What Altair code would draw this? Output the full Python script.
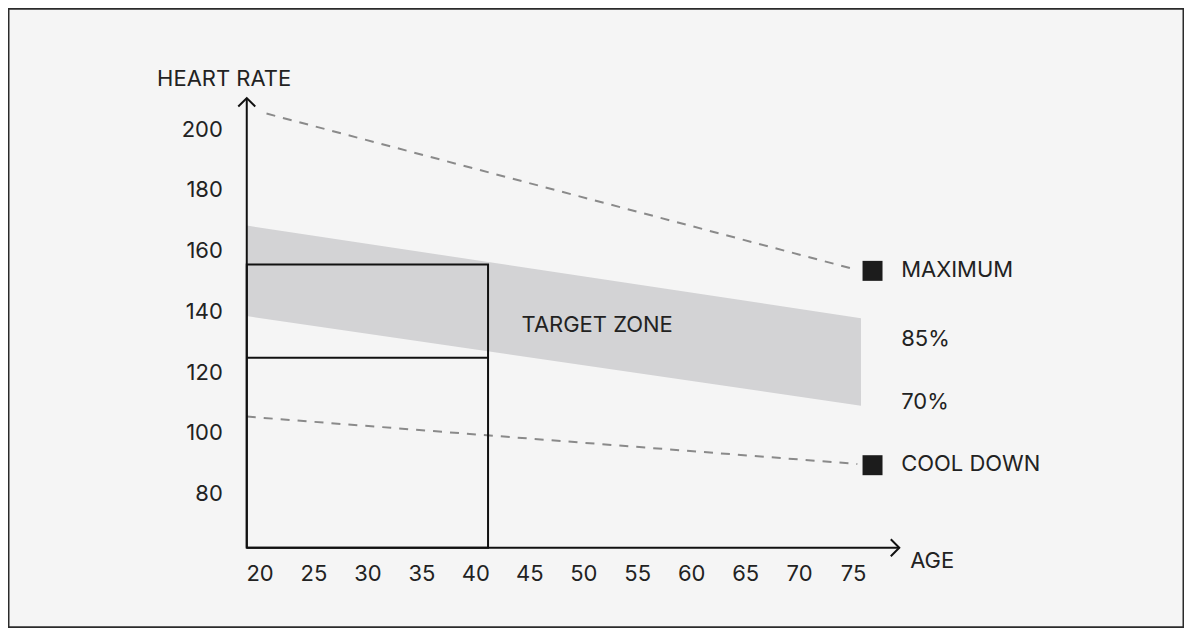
import altair as alt
import pandas as pd

# ---- data ----
band_age = [18.77, 75.69]
band_top = [168.4, 137.9]      # 85% line
band_bottom = [138.6, 109.1]   # 70% line

max_age = [20.6, 75.35]
max_hr = [205.3, 153.8]
cool_age = [18.77, 75.35]
cool_hr = [105.5, 89.9]

marker_age = [76.76, 76.76]
marker_hr = [153.5, 89.5]

box_age = [18.77, 41.13]
box_hr = [62.3, 155.6]
box_mid_hr = [124.9]

x_ticks = [20, 25, 30, 35, 40, 45, 50, 55, 60, 65, 70, 75]
y_ticks = [80, 100, 120, 140, 160, 180, 200]

axis_origin = [18.77, 62.3]
axis_end_age = [79.24]
axis_end_hr = [210.4]

right_labels = ["MAXIMUM", "85%", "70%", "COOL DOWN"]
right_label_hr = [153.8, 131.1, 110.2, 89.9]
right_label_age = [79.42]

FONT = "Inter"
FS = 22
TXT = "#222222"

xs = alt.Scale(domain=[20, 75], range=[252.25, 846.25], nice=False, zero=False)
ys = alt.Scale(domain=[80, 200], range=[486.2, 121.5], nice=False, zero=False)

def X(field="a"):
    return alt.X(f"{field}:Q", scale=xs, axis=None)

def Y(field="h"):
    return alt.Y(f"{field}:Q", scale=ys, axis=None)

# band
band_df = pd.DataFrame({"a": band_age, "h": band_top, "h2": band_bottom})
band = alt.Chart(band_df).mark_area(color="#d3d3d5", opacity=1).encode(
    x=X(), y=Y(), y2="h2:Q"
)

# dashed lines
lines_df = pd.DataFrame({
    "a": max_age + cool_age,
    "h": max_hr + cool_hr,
    "s": ["max", "max", "cool", "cool"],
})
lines = alt.Chart(lines_df).mark_line(
    color="#8a8a8a", strokeWidth=2, strokeDash=[9, 8]
).encode(x=X(), y=Y(), detail="s:N")

# markers
mk_df = pd.DataFrame({"a": marker_age, "h": marker_hr})
markers = alt.Chart(mk_df).mark_square(size=400, color="#1c1c1c", opacity=1).encode(
    x=X(), y=Y()
)

# box
box_df = pd.DataFrame({"a": [box_age[0]], "a2": [box_age[1]],
                       "h": [box_hr[0]], "h2": [box_hr[1]]})
box = alt.Chart(box_df).mark_rect(
    fill=None, stroke="#111111", strokeWidth=2
).encode(x=X(), x2="a2:Q", y=Y(), y2="h2:Q")

mid_df = pd.DataFrame({"a": [box_age[0]], "a2": [box_age[1]], "h": box_mid_hr})
mid = alt.Chart(mid_df).mark_rule(color="#111111", strokeWidth=2).encode(
    x=X(), x2="a2:Q", y=Y()
)

# axes lines
xaxis_df = pd.DataFrame({"a": [axis_origin[0]], "a2": axis_end_age, "h": [axis_origin[1]]})
xaxis = alt.Chart(xaxis_df).mark_rule(color="#111111", strokeWidth=2).encode(
    x=X(), x2="a2:Q", y=Y()
)
yaxis_df = pd.DataFrame({"a": [axis_origin[0]], "h": [axis_origin[1]], "h2": axis_end_hr})
yaxis = alt.Chart(yaxis_df).mark_rule(color="#111111", strokeWidth=2).encode(
    x=X(), y=Y(), y2="h2:Q"
)

# arrow heads
up_df = pd.DataFrame({"a": [axis_origin[0]], "h": axis_end_hr})
up_arrow = alt.Chart(up_df).mark_point(
    shape="M-1,1L0,0L1,1", size=289, filled=False, stroke="#111111",
    strokeWidth=2, opacity=1
).encode(x=X(), y=Y())
right_df = pd.DataFrame({"a": axis_end_age, "h": [axis_origin[1]]})
right_arrow = alt.Chart(right_df).mark_point(
    shape="M-1,-1L0,0L-1,1", size=289, filled=False, stroke="#111111",
    strokeWidth=2, opacity=1
).encode(x=X(), y=Y())

# tick labels
xt_df = pd.DataFrame({"a": x_ticks, "h": [53.6] * len(x_ticks),
                      "t": [str(v) for v in x_ticks]})
xt = alt.Chart(xt_df).mark_text(
    font=FONT, fontSize=FS, color=TXT, align="center", baseline="middle"
).encode(x=X(), y=Y(), text="t:N")

yt_df = pd.DataFrame({"a": [16.55] * len(y_ticks), "h": y_ticks,
                      "t": [str(v) for v in y_ticks]})
yt = alt.Chart(yt_df).mark_text(
    font=FONT, fontSize=FS, color=TXT, align="right", baseline="middle"
).encode(x=X(), y=Y(), text="t:N")

# other labels
rl_df = pd.DataFrame({"a": right_label_age * 4, "h": right_label_hr, "t": right_labels})
rl = alt.Chart(rl_df).mark_text(
    font=FONT, fontSize=FS, color=TXT, align="left", baseline="middle"
).encode(x=X(), y=Y(), text="t:N")

misc_df = pd.DataFrame({
    "a": [44.24, 80.25],
    "h": [135.7, 57.8],
    "t": ["TARGET ZONE", "AGE"],
})
misc = alt.Chart(misc_df).mark_text(
    font=FONT, fontSize=FS, color=TXT, align="left", baseline="middle"
).encode(x=X(), y=Y(), text="t:N")

hr_df = pd.DataFrame({"a": [16.67], "h": [216.6], "t": ["HEART RATE"]})
hr = alt.Chart(hr_df).mark_text(
    font=FONT, fontSize=FS, color=TXT, align="center", baseline="middle"
).encode(x=X(), y=Y(), text="t:N")

chart = alt.layer(
    band, lines, box, mid, xaxis, yaxis, up_arrow, right_arrow,
    markers, xt, yt, rl, misc, hr
).properties(
    width=1177, height=620, padding=0, background="#f5f5f5",
    autosize=alt.AutoSizeParams(type="none")
).configure_view(
    fill="#f5f5f5", stroke="#2b2b2b", strokeWidth=3
)

chart.save("out.html", embed_options={"renderer": "svg", "actions": False})
